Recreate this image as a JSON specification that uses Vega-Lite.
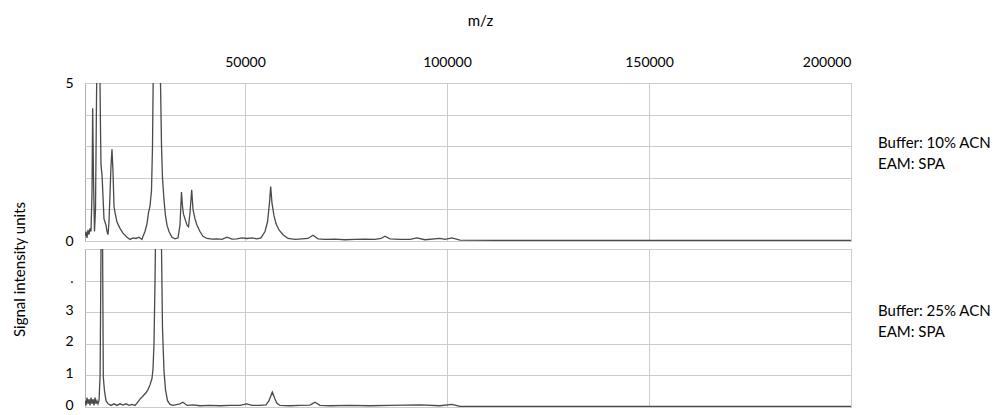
{
  "$schema": "https://vega.github.io/schema/vega-lite/v6.json",
  "background": "white",
  "padding": {"left": 12, "top": 12, "right": 2, "bottom": 2},
  "bounds": "flush",
  "spacing": 8,
  "config": {
    "font": "Lato",
    "view": {"stroke": "#b0b0b0", "strokeWidth": 1},
    "axis": {"labelFont": "Lato", "labelFontSize": 14, "labelColor": "#000", "titleFont": "Lato", "titleFontWeight": "normal", "titleColor": "#000", "gridColor": "#cccccc", "domain": false, "ticks": false}
  },
  "datasets": {
    "top": [
      {"mz":10400,"i":0.15},{"mz":10650,"i":0.3},{"mz":10900,"i":0.1},{"mz":11140,"i":0.35},{"mz":11390,"i":0.2},{"mz":11640,"i":0.4},{"mz":11885,"i":0.3},{"mz":12130,"i":1.5},{"mz":12300,"i":4.2},{"mz":12500,"i":2.0},{"mz":12750,"i":0.3},{"mz":13000,"i":1.0},{"mz":13250,"i":4.5},{"mz":13490,"i":7},{"mz":13740,"i":8},{"mz":13990,"i":6.5},{"mz":14240,"i":3.5},{"mz":14360,"i":2.4},{"mz":14610,"i":2.1},{"mz":14860,"i":1.4},{"mz":15100,"i":0.7},{"mz":15350,"i":0.6},{"mz":15600,"i":0.5},{"mz":15850,"i":0.3},{"mz":16090,"i":0.2},{"mz":16340,"i":0.6},{"mz":16590,"i":1.5},{"mz":16840,"i":2.4},{"mz":17080,"i":2.9},{"mz":17330,"i":2.2},{"mz":17580,"i":1.1},{"mz":17830,"i":0.9},{"mz":18320,"i":0.6},{"mz":19060,"i":0.4},{"mz":19800,"i":0.25},{"mz":20800,"i":0.12},{"mz":21540,"i":0.05},{"mz":22280,"i":0.1},{"mz":23020,"i":0.08},{"mz":23770,"i":0.12},{"mz":24510,"i":0.05},{"mz":24760,"i":0.15},{"mz":25250,"i":0.3},{"mz":25750,"i":0.55},{"mz":26120,"i":0.9},{"mz":26490,"i":1.1},{"mz":26860,"i":1.6},{"mz":27110,"i":3.0},{"mz":27350,"i":6.0},{"mz":27730,"i":8},{"mz":28220,"i":9},{"mz":28720,"i":8},{"mz":29090,"i":5},{"mz":29340,"i":3},{"mz":29580,"i":2},{"mz":29950,"i":1.3},{"mz":30320,"i":0.8},{"mz":30700,"i":0.5},{"mz":31190,"i":0.3},{"mz":31930,"i":0.12},{"mz":32680,"i":0.07},{"mz":33420,"i":0.1},{"mz":33910,"i":0.5},{"mz":34280,"i":1.55},{"mz":34530,"i":1.1},{"mz":34780,"i":0.85},{"mz":35150,"i":0.7},{"mz":35650,"i":0.5},{"mz":36020,"i":0.45},{"mz":36390,"i":0.9},{"mz":36810,"i":1.62},{"mz":37130,"i":1.0},{"mz":37630,"i":0.7},{"mz":38120,"i":0.5},{"mz":38860,"i":0.3},{"mz":39600,"i":0.15},{"mz":40600,"i":0.08},{"mz":41830,"i":0.06},{"mz":43070,"i":0.07},{"mz":44310,"i":0.05},{"mz":45550,"i":0.12},{"mz":46780,"i":0.06},{"mz":48020,"i":0.07},{"mz":49260,"i":0.1},{"mz":50500,"i":0.08},{"mz":51730,"i":0.1},{"mz":52970,"i":0.07},{"mz":53960,"i":0.1},{"mz":54950,"i":0.3},{"mz":55570,"i":0.6},{"mz":56060,"i":1.2},{"mz":56360,"i":1.72},{"mz":56680,"i":1.2},{"mz":57180,"i":0.8},{"mz":57670,"i":0.55},{"mz":58420,"i":0.35},{"mz":59410,"i":0.2},{"mz":60640,"i":0.08},{"mz":62380,"i":0.05},{"mz":64110,"i":0.07},{"mz":65590,"i":0.08},{"mz":66830,"i":0.18},{"mz":68070,"i":0.07},{"mz":69800,"i":0.05},{"mz":72280,"i":0.06},{"mz":74750,"i":0.04},{"mz":77220,"i":0.05},{"mz":79700,"i":0.06},{"mz":82180,"i":0.05},{"mz":83660,"i":0.08},{"mz":84650,"i":0.15},{"mz":85890,"i":0.07},{"mz":88360,"i":0.05},{"mz":90840,"i":0.05},{"mz":92570,"i":0.1},{"mz":94550,"i":0.04},{"mz":98260,"i":0.08},{"mz":99500,"i":0.05},{"mz":101230,"i":0.1},{"mz":103210,"i":0.03},{"mz":113110,"i":0.02},{"mz":150000,"i":0.02},{"mz":200000,"i":0.02}
    ],
    "bottom": [
      {"mz":10400,"i":0.2},{"mz":10650,"i":0.05},{"mz":10900,"i":0.3},{"mz":11140,"i":0.1},{"mz":11390,"i":0.25},{"mz":11640,"i":0.05},{"mz":11890,"i":0.3},{"mz":12130,"i":0.1},{"mz":12380,"i":0.25},{"mz":12630,"i":0.05},{"mz":12880,"i":0.3},{"mz":13120,"i":0.1},{"mz":13370,"i":0.2},{"mz":13620,"i":0.1},{"mz":13870,"i":0.2},{"mz":14140,"i":1.0},{"mz":14360,"i":5},{"mz":14560,"i":8},{"mz":14760,"i":5},{"mz":14930,"i":0.95},{"mz":15230,"i":0.5},{"mz":15600,"i":0.2},{"mz":16090,"i":0.1},{"mz":16840,"i":0.05},{"mz":17580,"i":0.1},{"mz":18320,"i":0.05},{"mz":19060,"i":0.1},{"mz":19800,"i":0.06},{"mz":20550,"i":0.1},{"mz":21290,"i":0.05},{"mz":22030,"i":0.08},{"mz":22770,"i":0.05},{"mz":23270,"i":0.12},{"mz":24010,"i":0.25},{"mz":24760,"i":0.35},{"mz":25500,"i":0.45},{"mz":25990,"i":0.55},{"mz":26490,"i":0.7},{"mz":26980,"i":0.9},{"mz":27230,"i":1.2},{"mz":27480,"i":2.0},{"mz":27730,"i":4.0},{"mz":27980,"i":6.5},{"mz":28470,"i":9},{"mz":28960,"i":8},{"mz":29340,"i":5},{"mz":29580,"i":2.5},{"mz":29950,"i":1.15},{"mz":30320,"i":0.55},{"mz":30820,"i":0.2},{"mz":31440,"i":0.08},{"mz":32180,"i":0.05},{"mz":33910,"i":0.1},{"mz":34650,"i":0.15},{"mz":35650,"i":0.05},{"mz":37130,"i":0.07},{"mz":38860,"i":0.04},{"mz":41340,"i":0.05},{"mz":43810,"i":0.04},{"mz":46290,"i":0.05},{"mz":48760,"i":0.05},{"mz":50420,"i":0.1},{"mz":51730,"i":0.05},{"mz":53710,"i":0.05},{"mz":55200,"i":0.07},{"mz":55940,"i":0.2},{"mz":56760,"i":0.47},{"mz":57430,"i":0.25},{"mz":57920,"i":0.12},{"mz":58660,"i":0.05},{"mz":61140,"i":0.04},{"mz":63610,"i":0.05},{"mz":66090,"i":0.06},{"mz":67330,"i":0.15},{"mz":68560,"i":0.05},{"mz":71040,"i":0.04},{"mz":75990,"i":0.05},{"mz":80940,"i":0.04},{"mz":85890,"i":0.05},{"mz":93310,"i":0.07},{"mz":98260,"i":0.04},{"mz":101230,"i":0.08},{"mz":103210,"i":0.02},{"mz":150000,"i":0.02},{"mz":200000,"i":0.02}
    ],
    "topText": [
      {"mz":200000,"i":3.1,"label":"Buffer: 10% ACN"},
      {"mz":200000,"i":2.45,"label":"EAM: SPA"}
    ],
    "bottomText": [
      {"mz":200000,"i":3.04,"label":"Buffer: 25% ACN"},
      {"mz":200000,"i":2.37,"label":"EAM: SPA"}
    ]
  },
  "vconcat": [
    {
      "width": 766,
      "height": 158,
      "layer": [
        {
          "data": {"name": "top"},
          "mark": {"type": "line", "clip": true, "color": "#4a4a4a", "strokeWidth": 1.3},
          "encoding": {
            "x": {"field": "mz", "type": "quantitative", "scale": {"domain": [10400, 200000], "nice": false, "zero": false},
                  "axis": {"orient": "top", "values": [50000, 100000, 150000, 200000], "tickCount": 20, "format": "d", "title": "m/z", "titleFontSize": 15, "labelPadding": 14, "titlePadding": 27, "titleX": 395}},
            "y": {"field": "i", "type": "quantitative", "scale": {"domain": [0, 5], "nice": false},
                  "axis": {"values": [0, 1, 2, 3, 4, 5], "tickCount": 20, "format": "d", "labelExpr": "datum.value == 0 || datum.value == 5 ? datum.label : ''", "labelPadding": 12, "title": "Signal intensity units", "titleFontSize": 15, "titlePadding": 37, "titleY": 186}}
          }
        },
        {
          "data": {"name": "topText"},
          "mark": {"type": "text", "align": "left", "baseline": "middle", "dx": 27, "fontSize": 15, "font": "Lato", "color": "#000"},
          "encoding": {
            "x": {"field": "mz", "type": "quantitative"},
            "y": {"field": "i", "type": "quantitative"},
            "text": {"field": "label"}
          }
        }
      ]
    },
    {
      "width": 766,
      "height": 158,
      "layer": [
        {
          "data": {"name": "bottom"},
          "mark": {"type": "line", "clip": true, "color": "#4a4a4a", "strokeWidth": 1.3},
          "encoding": {
            "x": {"field": "mz", "type": "quantitative", "scale": {"domain": [10400, 200000], "nice": false, "zero": false},
                  "axis": {"values": [50000, 100000, 150000, 200000], "tickCount": 20, "labels": false, "title": null}},
            "y": {"field": "i", "type": "quantitative", "scale": {"domain": [0, 5], "nice": false},
                  "axis": {"values": [0, 1, 2, 3, 4, 5], "tickCount": 20, "format": "d", "labelExpr": "datum.value == 5 ? '' : datum.value == 4 ? '.' : datum.label", "labelPadding": 12, "labelOffset": -2, "title": null}}
          }
        },
        {
          "data": {"name": "bottomText"},
          "mark": {"type": "text", "align": "left", "baseline": "middle", "dx": 27, "fontSize": 15, "font": "Lato", "color": "#000"},
          "encoding": {
            "x": {"field": "mz", "type": "quantitative"},
            "y": {"field": "i", "type": "quantitative"},
            "text": {"field": "label"}
          }
        }
      ]
    }
  ]
}
